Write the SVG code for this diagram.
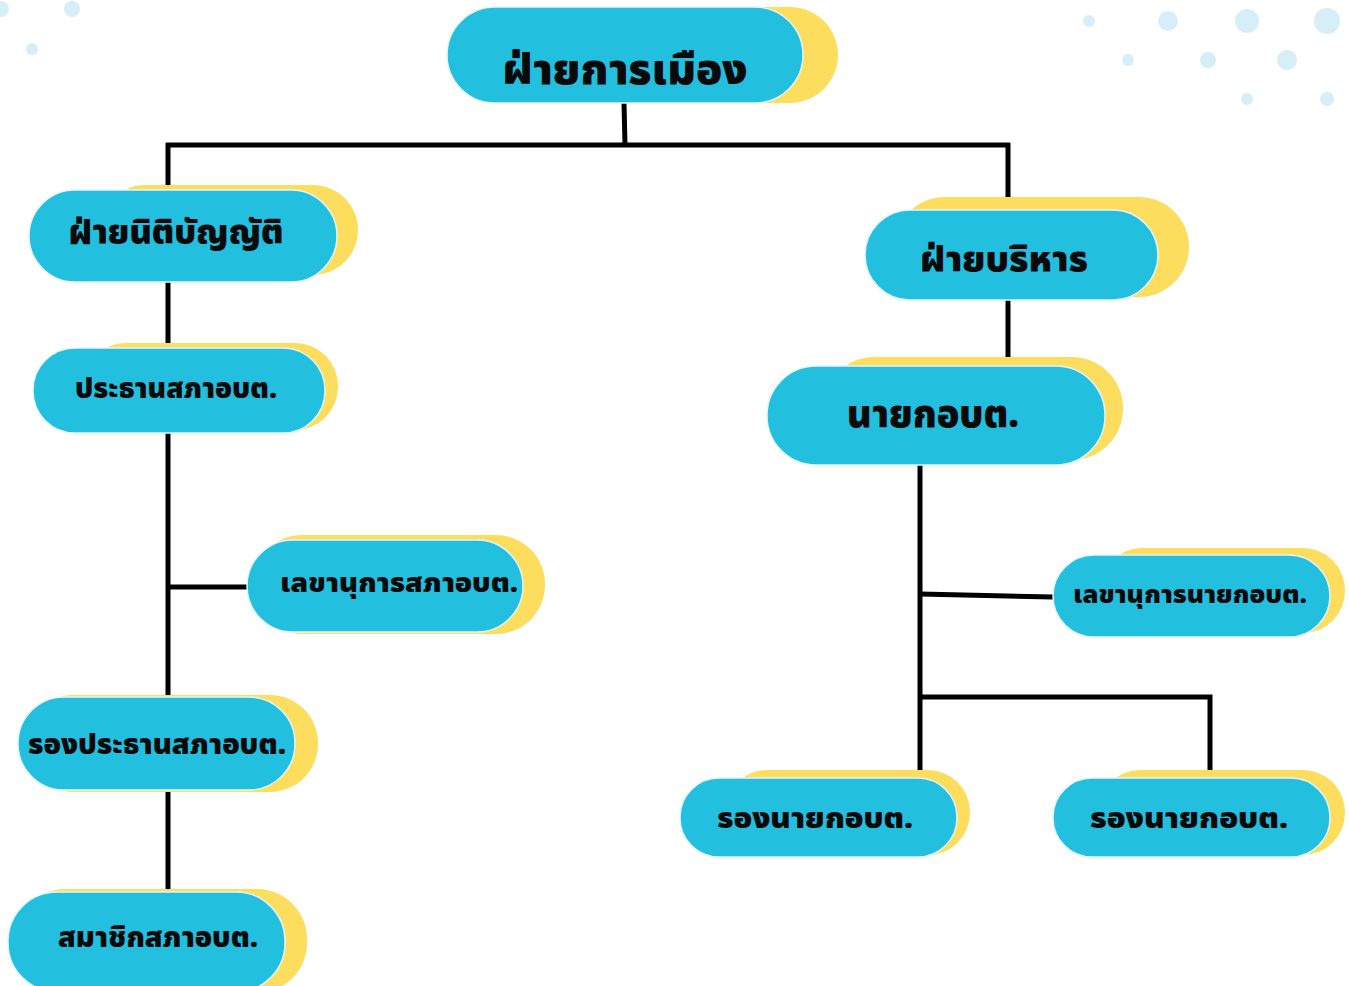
<svg xmlns="http://www.w3.org/2000/svg" width="1349" height="986" viewBox="0 0 1349 986">
<style>
.y{fill:#FCDD5D}
.c{fill:#22BFDF;stroke:#E4F6FB;stroke-width:1.5}
.t{font-family:"Noto Sans Thai","Noto Sans","DejaVu Sans",sans-serif;font-weight:900;fill:#0a0a0a;text-anchor:middle}
.l{fill:none;stroke:#000;stroke-width:5}
.d{fill:#D6EEF7}
</style>
<rect width="1349" height="986" fill="#fff"/>
<g id="dots">
<circle class="d" cx="1" cy="9" r="8"/><circle class="d" cx="72" cy="9" r="8"/><circle class="d" cx="32" cy="49" r="6"/>
<circle class="d" cx="1089" cy="21" r="6"/><circle class="d" cx="1168" cy="21" r="10"/><circle class="d" cx="1247" cy="21" r="12"/><circle class="d" cx="1327" cy="21" r="13"/>
<circle class="d" cx="1128" cy="60" r="6"/><circle class="d" cx="1208" cy="60" r="8"/><circle class="d" cx="1287" cy="60" r="10"/>
<circle class="d" cx="1247" cy="99" r="6"/><circle class="d" cx="1327" cy="99" r="7"/>
</g>
<g id="connectors">
<path class="l" d="M624,103 L625,145"/>
<path class="l" d="M166,145 H1010"/>
<path class="l" d="M168,143 V190"/>
<path class="l" d="M1008,143 V210"/>
<path class="l" d="M168,282 V348"/>
<path class="l" d="M168,433 V697"/>
<path class="l" d="M168,587 H247"/>
<path class="l" d="M168,790 V892"/>
<path class="l" d="M1008,300 V366"/>
<path class="l" d="M920,465 V778"/>
<path class="l" d="M920,594 L1053,597"/>
<path class="l" d="M920,697 H1210 V770"/>
</g>
<g id="n-politics">
<rect class="y" x="480" y="7" width="358" height="96" rx="48"/>
<rect class="c" x="447" y="7" width="356" height="96" rx="48"/>
<text class="t" x="625" y="84" font-size="42" textLength="245" lengthAdjust="spacingAndGlyphs">ฝ่ายการเมือง</text>
</g>
<g id="n-legislative">
<rect class="y" x="100" y="185" width="258" height="90" rx="45"/>
<rect class="c" x="29" y="190" width="308" height="92" rx="46"/>
<text class="t" x="176" y="244" font-size="33" textLength="215" lengthAdjust="spacingAndGlyphs">ฝ่ายนิติบัญญัติ</text>
</g>
<g id="n-executive">
<rect class="y" x="895" y="197" width="294" height="100" rx="50"/>
<rect class="c" x="865" y="210" width="293" height="90" rx="45"/>
<text class="t" x="1004" y="271" font-size="35" textLength="168" lengthAdjust="spacingAndGlyphs">ฝ่ายบริหาร</text>
</g>
<g id="n-council-chair">
<rect class="y" x="83" y="343" width="255" height="87" rx="43"/>
<rect class="c" x="33" y="348" width="292" height="85" rx="42"/>
<text class="t" x="176" y="398" font-size="28" textLength="202" lengthAdjust="spacingAndGlyphs">ประธานสภาอบต.</text>
</g>
<g id="n-council-secretary">
<rect class="y" x="253" y="535" width="292" height="99" rx="49"/>
<rect class="c" x="247" y="540" width="276" height="92" rx="46"/>
<text class="t" x="399" y="592" font-size="27" textLength="238" lengthAdjust="spacingAndGlyphs">เลขานุการสภาอบต.</text>
</g>
<g id="n-council-vice">
<rect class="y" x="25" y="695" width="293" height="97" rx="48"/>
<rect class="c" x="18" y="697" width="277" height="93" rx="46"/>
<text class="t" x="157" y="754" font-size="28" textLength="258" lengthAdjust="spacingAndGlyphs">รองประธานสภาอบต.</text>
</g>
<g id="n-council-member">
<rect class="y" x="15" y="889" width="292" height="104" rx="50"/>
<rect class="c" x="8" y="892" width="277" height="100" rx="49"/>
<text class="t" x="158" y="947" font-size="28" textLength="200" lengthAdjust="spacingAndGlyphs">สมาชิกสภาอบต.</text>
</g>
<g id="n-mayor">
<rect class="y" x="823" y="357" width="300" height="103" rx="51"/>
<rect class="c" x="767" y="366" width="338" height="99" rx="49"/>
<text class="t" x="933" y="427" font-size="38" textLength="172" lengthAdjust="spacingAndGlyphs">นายกอบต.</text>
</g>
<g id="n-mayor-secretary">
<rect class="y" x="1100" y="548" width="245" height="85" rx="42"/>
<rect class="c" x="1053" y="555" width="277" height="82" rx="41"/>
<text class="t" x="1190" y="603" font-size="25" textLength="234" lengthAdjust="spacingAndGlyphs">เลขานุการนายกอบต.</text>
</g>
<g id="n-vice-mayor-1">
<rect class="y" x="725" y="770" width="245" height="85" rx="42"/>
<rect class="c" x="680" y="778" width="277" height="79" rx="39"/>
<text class="t" x="815" y="828" font-size="29" textLength="196" lengthAdjust="spacingAndGlyphs">รองนายกอบต.</text>
</g>
<g id="n-vice-mayor-2">
<rect class="y" x="1098" y="770" width="247" height="85" rx="42"/>
<rect class="c" x="1053" y="778" width="277" height="79" rx="39"/>
<text class="t" x="1189" y="828" font-size="29" textLength="198" lengthAdjust="spacingAndGlyphs">รองนายกอบต.</text>
</g>
</svg>
